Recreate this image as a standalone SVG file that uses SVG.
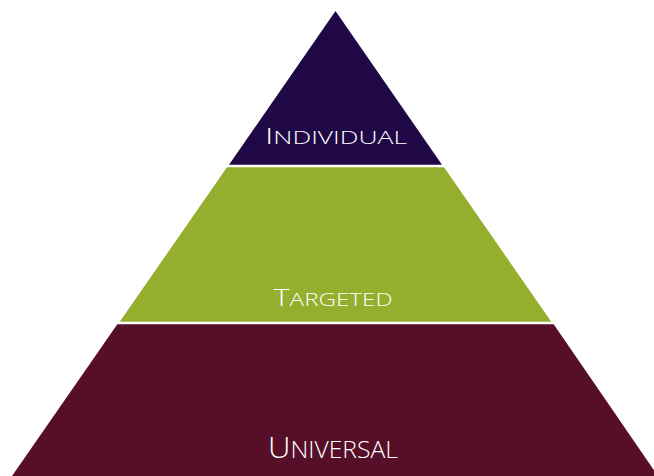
<svg xmlns="http://www.w3.org/2000/svg" width="654" height="476" viewBox="0 0 654 476">
  <style>
    .label { font-family: "Open Sans", "Lato", "DejaVu Sans", sans-serif; font-weight: 300; fill: #ffffff; }
    .sep { stroke: #ffffff; stroke-width: 2.5; }
  </style>
  <rect width="654" height="476" fill="#ffffff"/>
  <g id="tier-individual">
    <polygon points="335.5,11 442.5,165.5 228.5,165.5" fill="#1f0845"/>
    <text class="label" x="336" y="144" text-anchor="middle" textLength="142" lengthAdjust="spacingAndGlyphs"><tspan font-size="22.5">I</tspan><tspan font-size="18">NDIVIDUAL</tspan></text>
  </g>
  <g id="tier-targeted">
    <polygon points="443.5,166.5 552.5,323.5 118.5,323.5 227.5,166.5" fill="#96ae2d"/>
    <text class="label" x="333" y="306" text-anchor="middle" textLength="119" lengthAdjust="spacingAndGlyphs"><tspan font-size="23.5">T</tspan><tspan font-size="18.5">ARGETED</tspan></text>
  </g>
  <g id="tier-universal">
    <polygon points="553.5,324 658,476 12,476 117.5,324" fill="#560e29"/>
    <text class="label" x="333" y="458" text-anchor="middle" textLength="130" lengthAdjust="spacingAndGlyphs"><tspan font-size="29">U</tspan><tspan font-size="23">NIVERSAL</tspan></text>
  </g>
  <g id="connectors">
    <line class="sep" x1="200" y1="166" x2="470" y2="166"/>
    <line class="sep" x1="100" y1="323" x2="570" y2="323"/>
  </g>
</svg>
